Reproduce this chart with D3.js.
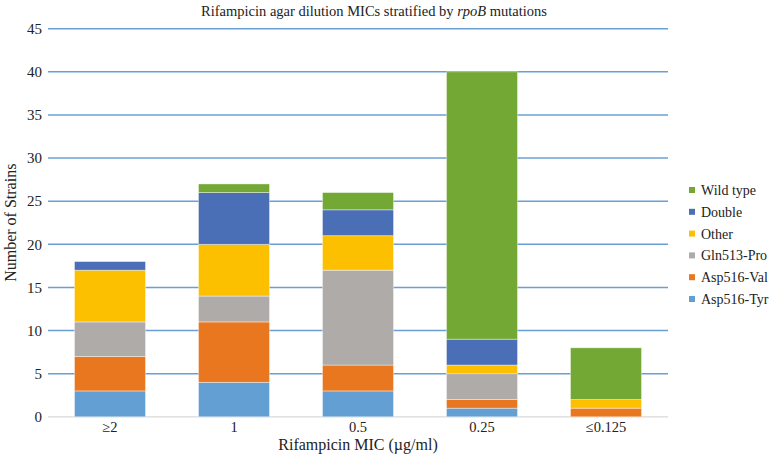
<!DOCTYPE html>
<html><head><meta charset="utf-8">
<script src="https://cdn.jsdelivr.net/npm/d3@7"></script>
<style>body{margin:0;background:#fff}svg{display:block}text{font-family:"Liberation Serif","DejaVu Serif",serif;fill:#222}</style>
</head><body><svg id="c" width="772" height="457"></svg>
<script>
const categories = ["≥2", "1", "0.5", "0.25", "≤0.125"];
const seriesNames = ["Asp516-Tyr", "Asp516-Val", "Gln513-Pro", "Other", "Double", "Wild type"];
const asp516Tyr = [3, 4, 3, 1, 0];
const asp516Val = [4, 7, 3, 1, 1];
const gln513Pro = [4, 3, 11, 3, 0];
const other     = [6, 6, 4, 1, 1];
const double    = [1, 6, 3, 3, 0];
const wildType  = [0, 1, 2, 31, 6];
const yTicks = [0, 5, 10, 15, 20, 25, 30, 35, 40, 45];
const colors = ["#649FD3", "#E8771F", "#AFABA8", "#FDC000", "#4A6FB7", "#73A834"];

const seriesVals = [asp516Tyr, asp516Val, gln513Pro, other, double, wildType];
const rows = categories.map((c, i) => {
  const r = {cat: c};
  seriesNames.forEach((s, j) => r[s] = seriesVals[j][i]);
  return r;
});
const stack = d3.stack().keys(seriesNames)(rows);

const svg = d3.select("#c");
const plotLeft = 48, plotRight = 668, plotTop = 28.7, plotBottom = 416.8;
const x = d3.scaleBand().domain(categories).range([plotLeft, plotRight]).paddingInner(0.427).paddingOuter(0.2135);
const y = d3.scaleLinear().domain([0, 45]).range([plotBottom, plotTop]);

// gridlines
svg.append("g").selectAll("line").data(yTicks).join("line")
  .attr("x1", plotLeft).attr("x2", plotRight)
  .attr("y1", d => y(d)).attr("y2", d => y(d))
  .attr("stroke", d => d === 0 ? "#D9D9D9" : "#6A9FD6")
  .attr("stroke-width", d => d === 0 ? 1.2 : 1.6);

// y labels
svg.append("g").selectAll("text").data(yTicks).join("text")
  .attr("x", 42).attr("y", d => y(d)).attr("dy", "0.35em")
  .attr("text-anchor", "end").attr("font-size", 15).text(d => d);

// bars
svg.append("g").selectAll("g").data(stack).join("g")
  .attr("fill", (d, i) => colors[i])
  .selectAll("rect").data(d => d).join("rect")
  .attr("x", d => x(d.data.cat)).attr("width", x.bandwidth())
  .attr("y", d => y(d[1])).attr("height", d => Math.max(0, y(d[0]) - y(d[1])))
  .attr("stroke", "#ffffff").attr("stroke-opacity", 0.5).attr("stroke-width", 0.8);

// x labels
svg.append("g").selectAll("text").data(categories).join("text")
  .attr("x", d => x(d) + x.bandwidth() / 2).attr("y", 432)
  .attr("text-anchor", "middle").attr("font-size", 14.5).text(d => d);

// axis titles
svg.append("text").attr("x", (plotLeft + plotRight) / 2).attr("y", 450).attr("text-anchor", "middle")
  .attr("font-size", 16).text("Rifampicin MIC (µg/ml)");
svg.append("text").attr("transform", `translate(16,${(plotTop + plotBottom) / 2}) rotate(-90)`)
  .attr("text-anchor", "middle").attr("font-size", 16).text("Number of Strains");

// title
const t = svg.append("text").attr("x", 374).attr("y", 16).attr("text-anchor", "middle").attr("font-size", 14.5);
t.append("tspan").text("Rifampicin agar dilution MICs stratified by ");
t.append("tspan").attr("font-style", "italic").text("rpoB");
t.append("tspan").text(" mutations");

// legend
const legendOrder = seriesNames.map((s, i) => ({s, c: colors[i]})).reverse();
const lg = svg.append("g").selectAll("g").data(legendOrder).join("g")
  .attr("transform", (d, i) => `translate(689,${190 + i * 21.8})`);
lg.append("rect").attr("x", 0).attr("y", -3).attr("width", 6).attr("height", 6).attr("fill", d => d.c);
lg.append("text").attr("x", 12).attr("dy", "0.35em").attr("font-size", 14).text(d => d.s);
</script></body></html>
